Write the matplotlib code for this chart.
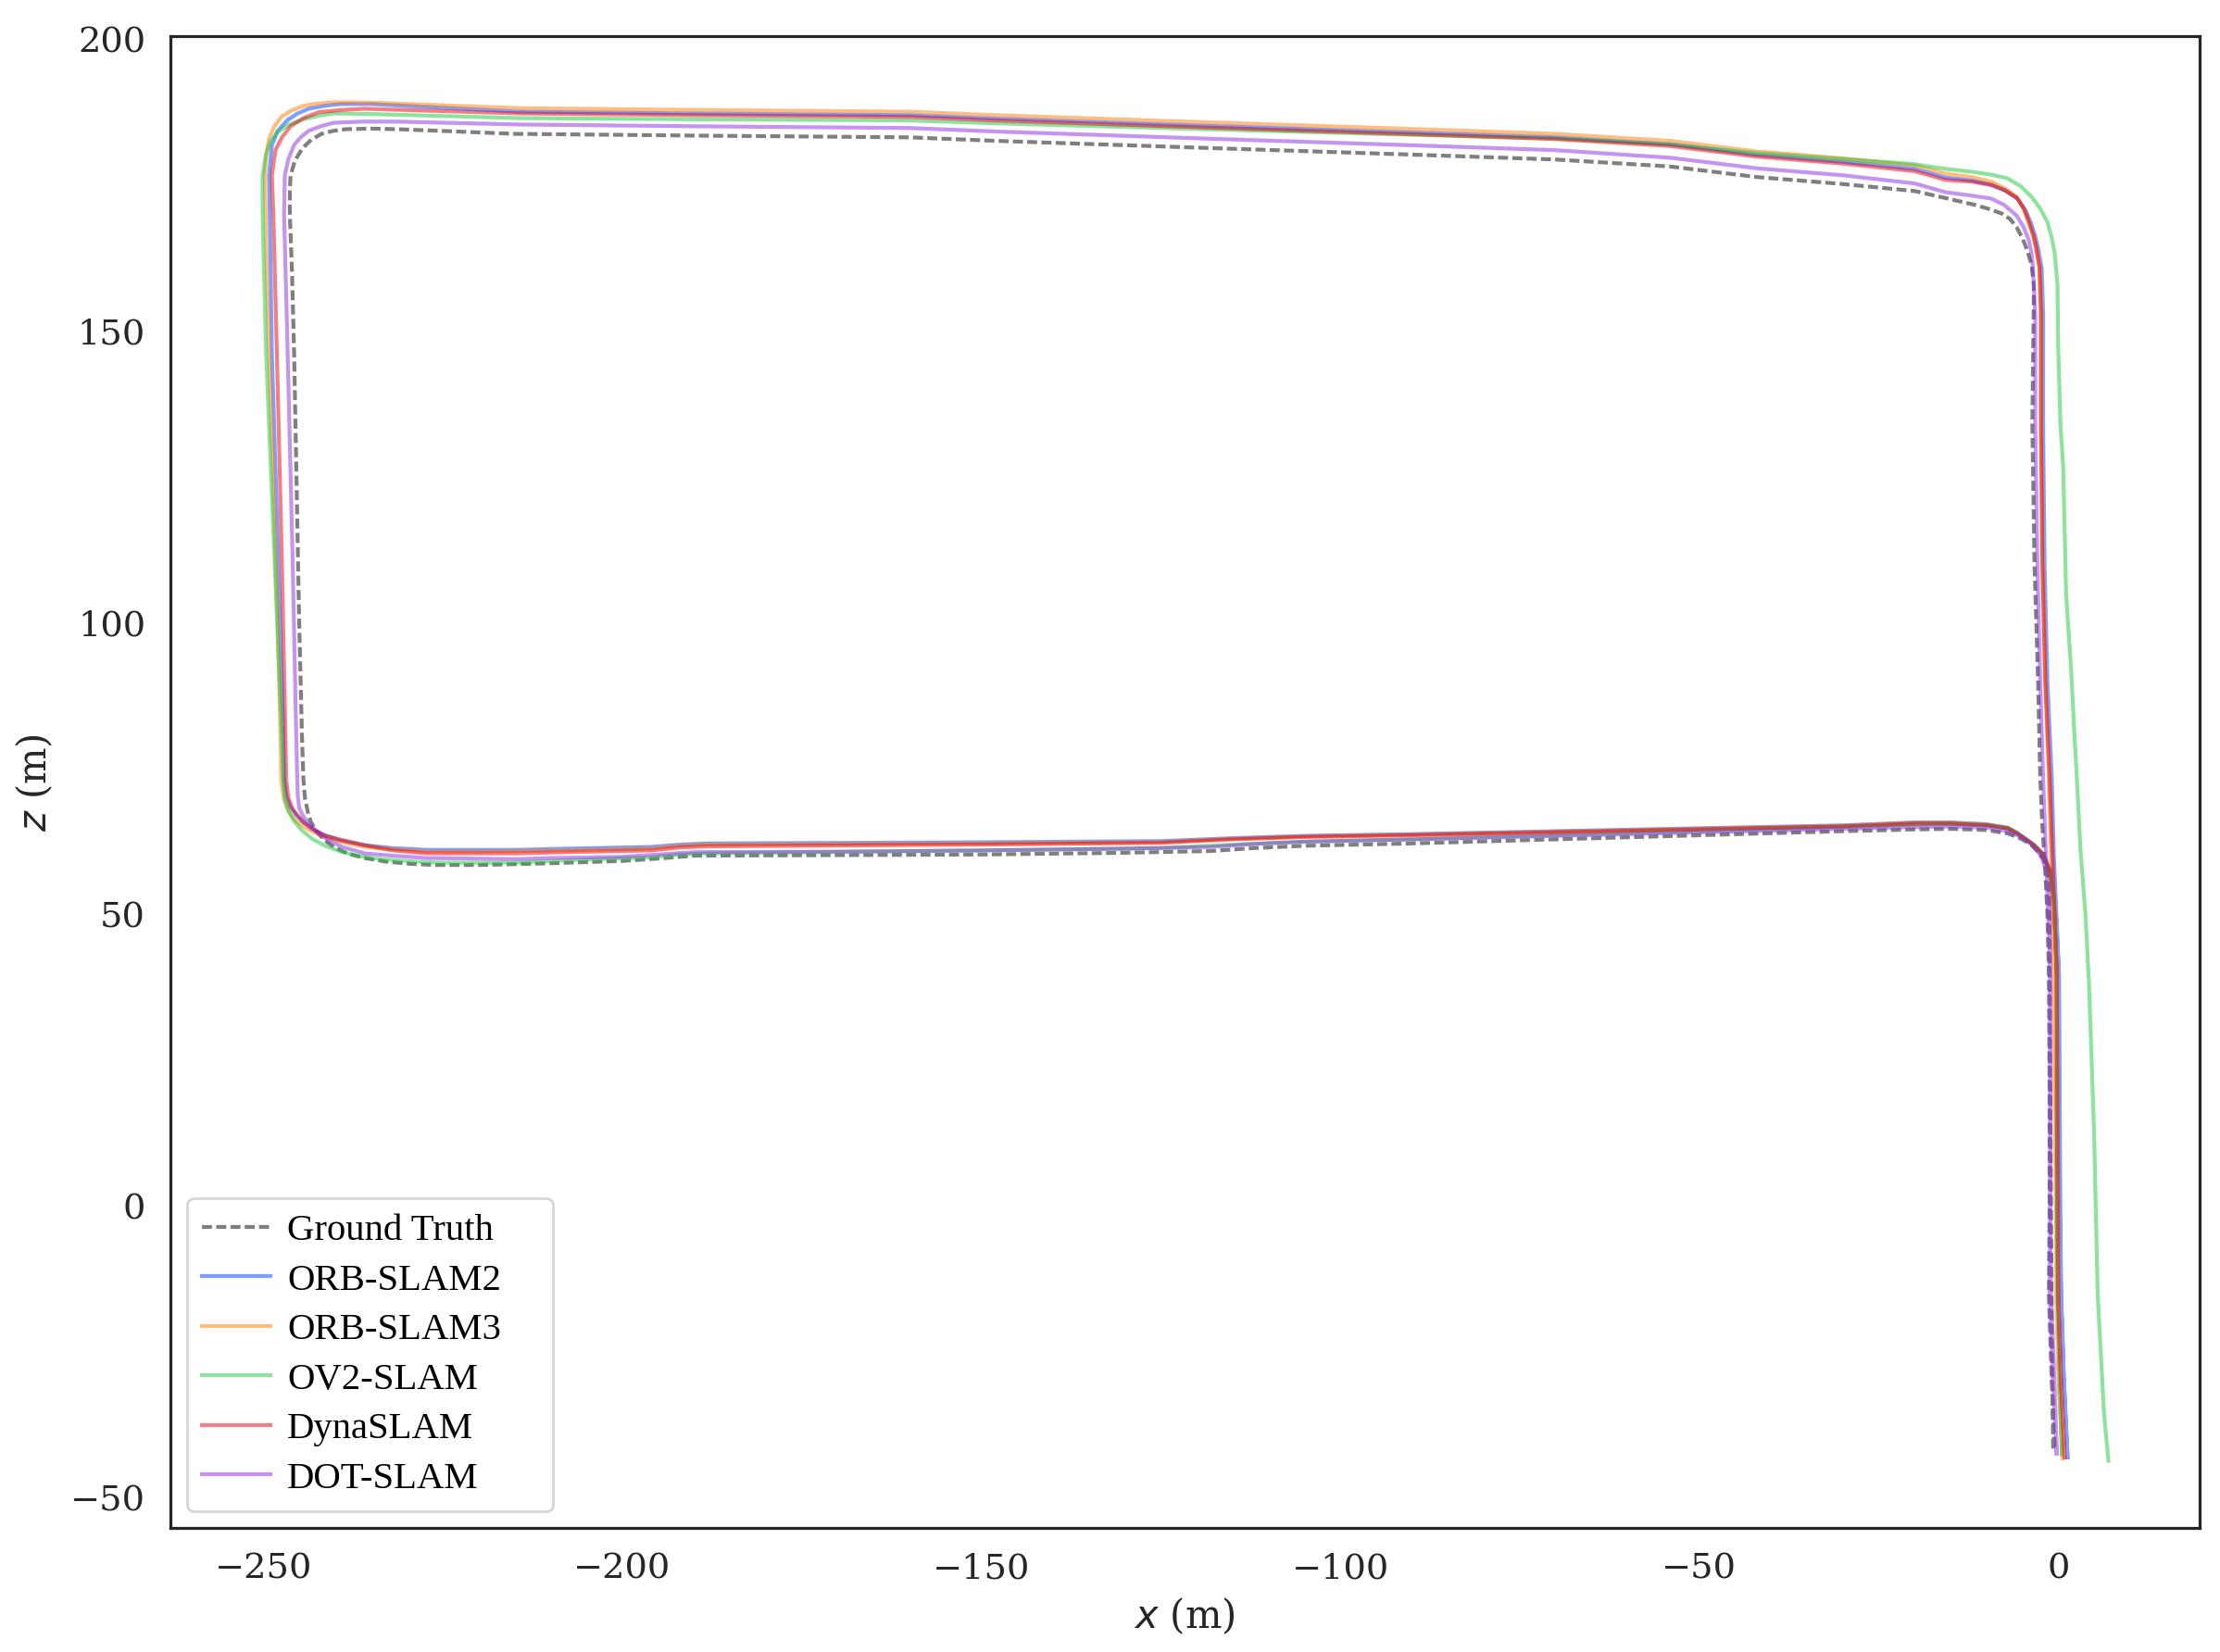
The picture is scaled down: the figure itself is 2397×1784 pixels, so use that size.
import numpy as np
import matplotlib
matplotlib.use("Agg")
import matplotlib.pyplot as plt

plt.rcParams['font.family'] = ['DejaVu Serif']
plt.rcParams['mathtext.fontset'] = 'dejavusans'

labels = ["Ground Truth", "ORB-SLAM2", "ORB-SLAM3", "OV2-SLAM", "DynaSLAM", "DOT-SLAM"]
colors = ["k", "#023eff", "#ff7c00", "#1ac938", "#e8000b", "#8b2be2"]

gt_xz = [
    (-0.7, -41.5), (-0.9, -20), (-1.0, 0), (-1.1, 20), (-1.2, 40), (-1.2, 50), (-1.3, 54), (-1.5, 57.6),
    (-2.0, 59.5), (-2.8, 60.8), (-3.8, 62.0), (-5.0, 62.9), (-7.0, 63.9), (-10.0, 64.5), (-15, 64.7),
    (-20, 64.6), (-30, 64.3), (-50, 63.6), (-70, 62.9), (-90, 62.2), (-105, 61.8), (-112, 61.4), (-118, 60.9),
    (-130, 60.6), (-150, 60.3), (-170, 60.2), (-190, 60.1), (-195, 59.6), (-200, 59.2), (-210, 58.8),
    (-220, 58.5), (-226, 58.5),
    (-229.5, 58.7), (-233, 59.1), (-235.9, 59.7), (-238.3, 60.5), (-240.2, 61.6), (-241.6, 62.9),
    (-242.7, 64.4), (-243.4, 66.0), (-243.8, 67.6), (-244.2, 70), (-244.4, 73),
    (-244.6, 80), (-245.0, 100), (-245.3, 120), (-245.7, 146), (-246.0, 160), (-246.3, 170), (-246.3, 174),
    (-246.2, 176.7), (-245.6, 179.2), (-244.5, 181.4), (-243.3, 182.8), (-241.9, 183.8), (-240.3, 184.3),
    (-238.5, 184.6), (-235, 184.7), (-231.5, 184.6),
    (-223, 184.2), (-215, 183.8), (-190, 183.5), (-160, 183.2), (-148, 182.6), (-119, 181.4), (-89, 180.2),
    (-70, 179.4), (-54, 178.2), (-42, 176.4), (-30, 175.2), (-20, 174.0), (-15, 172.6),
    (-11.5, 171.6), (-9.3, 170.8), (-7.8, 170.1), (-6.7, 169.2), (-5.8, 167.8), (-5.0, 166.0), (-4.3, 163.8),
    (-3.7, 161.3), (-3.4, 158), (-3.4, 155),
    (-3.5, 145), (-3.6, 134), (-3.3, 110), (-2.8, 90), (-2.5, 73.5), (-2.2, 65), (-1.8, 57.6), (-1.5, 50),
    (-1.3, 40), (-1.2, 20), (-1.2, 0), (-1.3, -15), (-0.9, -30), (-0.5, -41.5),
]

orb2_xz = [
    (1.3, -43.0), (0.8, -30), (0.4, -15), (0.2, 0), (0.1, 20), (0.1, 39.7), (-0.4, 52.4), (-0.8, 55.5),
    (-1.1, 57.6), (-1.7, 59.3), (-2.4, 60.8), (-3.3, 61.9), (-4.4, 62.9), (-5.7, 64.0), (-7.0, 64.9),
    (-10, 65.5), (-15, 65.8),
    (-20, 65.8), (-30, 65.3), (-50, 64.8), (-70, 64.3), (-90, 63.8), (-105, 63.5), (-115, 63.1), (-125, 62.6),
    (-150, 62.4), (-188, 62.2), (-192, 62.0), (-196, 61.6), (-208, 61.3), (-214.4, 61.1), (-227.3, 61.1),
    (-232, 61.4), (-235.9, 61.9), (-239.3, 62.7), (-241.6, 63.7), (-243.2, 64.7), (-244.5, 65.9),
    (-245.5, 67.2), (-246.3, 68.6), (-246.8, 70.3), (-247.1, 73),
    (-247.2, 80), (-247.9, 110), (-248.8, 146), (-249.1, 170), (-249.2, 176.7),
    (-248.8, 181.9), (-248.0, 184.3), (-246.6, 186.2), (-245.2, 187.3), (-243.7, 188.1), (-241.5, 188.6),
    (-239.3, 188.9), (-235, 188.9),
    (-214.4, 187.6), (-190, 187.3), (-160, 187.0), (-148, 186.4), (-119, 185.2), (-89, 184.0), (-70, 183.2),
    (-54, 182.0), (-42, 180.2), (-30, 179.0), (-20, 177.8), (-15.7, 176.3),
    (-12, 175.8), (-9.3, 175.1), (-7.3, 174.0), (-5.6, 172.6), (-4.5, 170.6), (-3.8, 168.5), (-3.2, 166.3),
    (-2.8, 164.2), (-2.3, 160.8), (-2.1, 152.9),
    (-2.1, 134), (-1.9, 110), (-1.5, 90), (-0.9, 73.5), (-0.6, 60), (0.1, 40), (0.2, 20), (0.3, 0),
    (0.4, -15), (0.8, -30), (1.3, -43.0),
]

orb3_xz = [
    (0.6, -43.0), (0.1, -30), (-0.2, -15), (-0.3, 0), (-0.3, 20), (-0.3, 40), (-0.6, 52.4), (-0.9, 55.5),
    (-1.2, 57.6), (-1.8, 59.3), (-2.5, 60.8), (-3.4, 61.9), (-4.5, 62.9), (-5.8, 64.0), (-7.1, 64.8),
    (-10, 65.4), (-15, 65.7),
    (-20, 65.7), (-30, 65.2), (-50, 64.7), (-70, 64.2), (-90, 63.7), (-105, 63.4), (-115, 63.0), (-125, 62.4),
    (-150, 62.2), (-188, 62.0), (-192, 61.8), (-196, 61.3), (-208, 61.0), (-220, 60.8), (-227.3, 60.8),
    (-232, 61.2), (-235.9, 61.6), (-239.5, 62.6), (-241.8, 63.5), (-243.3, 64.3), (-244.4, 65.1),
    (-245.4, 66.0), (-246.2, 67.1), (-246.8, 68.6), (-247.2, 70.3), (-247.5, 73),
    (-247.6, 80), (-248.0, 100), (-248.5, 120), (-249.2, 146), (-249.6, 165), (-249.8, 176.7),
    (-249.6, 180), (-249.2, 183), (-248.5, 185.0), (-247.5, 186.7), (-246.1, 187.8), (-244.4, 188.6),
    (-242.4, 189.0), (-240.2, 189.2), (-237, 189.2), (-233.7, 189.1),
    (-214.4, 188.2), (-190, 187.9), (-160, 187.6), (-148, 187.0), (-119, 185.8), (-89, 184.6), (-70, 183.8),
    (-54, 182.6), (-42, 180.8), (-30, 179.6), (-20, 178.4), (-15.7, 177.0),
    (-12, 176.4), (-9.3, 175.6), (-7.5, 174.5), (-5.8, 173.0), (-4.8, 171.0), (-4.1, 168.7), (-3.5, 166.5),
    (-3.1, 164.4), (-2.6, 160.8), (-2.4, 152.9),
    (-2.4, 134), (-2.2, 110), (-1.8, 90), (-1.3, 73.5), (-1.0, 60), (-0.6, 40), (-0.5, 20), (-0.3, 0),
    (-0.3, -15), (0.1, -30), (0.6, -43.2),
]

ov2_xz = [
    (0.5, -42.5), (0.2, -30), (-0.1, -15), (-0.2, 0), (-0.2, 20), (-0.2, 39.7), (-0.6, 52.4), (-0.9, 55.5),
    (-1.2, 57.6), (-1.8, 59.3), (-2.5, 60.8), (-3.4, 61.9), (-4.5, 62.9), (-5.8, 64.0), (-7.1, 64.8),
    (-10, 65.3), (-15, 65.5),
    (-20, 65.4), (-30, 65.0), (-50, 64.3), (-70, 63.6), (-90, 62.9), (-105, 62.5), (-115, 62.0), (-125, 61.4),
    (-150, 61.0), (-188, 60.5), (-192, 60.3), (-196, 59.8), (-208, 59.3), (-214.4, 58.9), (-225, 58.9),
    (-229, 59.1), (-233.6, 59.5), (-237, 60.1), (-239.2, 60.8), (-241.4, 61.8), (-243.1, 62.9),
    (-244.6, 64.4), (-245.7, 66.0), (-246.5, 67.8), (-247.0, 69.8), (-247.2, 73),
    (-247.4, 80), (-248.4, 110), (-249.6, 146), (-250.1, 170), (-250.1, 176.7),
    (-249.6, 180.5), (-249.0, 182.5), (-248.0, 184.1), (-246.4, 185.4), (-244.4, 186.3), (-242.3, 186.9),
    (-240.2, 187.3), (-235, 187.2),
    (-214.4, 186.5), (-190, 186.3), (-160, 186.1), (-148, 185.6), (-119, 184.6), (-89, 183.6), (-70, 183.0),
    (-54, 182.0), (-42, 180.5), (-30, 179.5), (-20, 178.6), (-15.7, 177.8),
    (-12, 177.3), (-9.3, 176.8), (-7.1, 176.2), (-5.2, 174.8), (-3.7, 173.0), (-2.5, 171.0), (-1.5, 168.7),
    (-0.9, 166.0), (-0.5, 163.5), (-0.1, 158), (0.0, 147.6),
    (0.3, 134.3), (0.7, 126.7), (1.1, 104.9), (1.8, 92), (2.3, 80), (2.6, 73.5), (3.1, 61.2), (3.8, 50),
    (4.3, 38), (5.0, 12.7), (5.5, -15), (6.4, -35.8), (7.0, -43.6),
]

dyna_xz = [
    (0.9, -43.0), (0.4, -30), (0.0, -15), (-0.1, 0), (-0.2, 20), (-0.2, 39.7), (-0.6, 52.4), (-0.9, 55.5),
    (-1.2, 57.6), (-1.8, 59.3), (-2.5, 60.8), (-3.4, 61.9), (-4.5, 62.9), (-5.8, 64.0), (-7.1, 64.8),
    (-10, 65.3), (-15, 65.6),
    (-20, 65.6), (-30, 65.1), (-50, 64.6), (-70, 64.1), (-90, 63.6), (-105, 63.3), (-115, 62.9), (-125, 62.3),
    (-150, 62.0), (-188, 61.7), (-192, 61.5), (-196, 61.0), (-208, 60.7), (-214.4, 60.5), (-227.3, 60.5),
    (-232, 61.0), (-235.9, 61.9), (-239, 62.8), (-241.4, 63.5), (-243.0, 64.6), (-244.4, 65.9),
    (-245.3, 67.1), (-246.0, 68.3), (-246.5, 70), (-246.8, 73),
    (-246.9, 80), (-247.4, 110), (-248.1, 146), (-248.6, 170), (-248.8, 176.7),
    (-248.3, 181.0), (-247.4, 183.2), (-246.2, 185.1), (-244.4, 186.5), (-242.3, 187.5), (-239, 187.9),
    (-235.9, 188.1),
    (-214.4, 187.3), (-190, 187.0), (-160, 186.7), (-148, 186.1), (-119, 184.9), (-89, 183.7), (-70, 182.9),
    (-54, 181.7), (-42, 179.9), (-30, 178.7), (-20, 177.4), (-15.7, 175.9),
    (-12, 175.6), (-9.3, 175.0), (-7.5, 174.2), (-5.8, 172.9), (-4.8, 171.0), (-4.1, 168.7), (-3.5, 166.5),
    (-3.1, 164.4), (-2.6, 160.8), (-2.4, 152.9),
    (-2.4, 134), (-2.2, 110), (-1.8, 90), (-1.2, 73.5), (-0.8, 60), (-0.2, 40), (-0.1, 20), (0.0, 0),
    (0.0, -15), (0.4, -30), (0.9, -43.0),
]

dot_xz = [
    (-0.2, -42.4), (-0.5, -30), (-1.0, -15), (-1.1, 0), (-1.1, 20), (-1.1, 39.7), (-1.2, 52.4), (-1.4, 55.5),
    (-1.7, 57.6), (-2.2, 59.5), (-2.9, 60.9), (-3.9, 62.2), (-5.0, 63.2), (-7.0, 64.3), (-10, 64.9),
    (-15, 65.1),
    (-20, 65.0), (-30, 64.7), (-50, 64.1), (-70, 63.5), (-90, 62.9), (-105, 62.5), (-112, 62.1), (-118, 61.6),
    (-130, 61.3), (-150, 61.0), (-170, 60.8), (-190, 60.7), (-195, 60.3), (-200, 59.9), (-210, 59.7),
    (-214.4, 59.5), (-227.3, 59.7),
    (-232, 60.1), (-235.9, 60.5), (-239, 61.6), (-241.1, 62.9), (-242.6, 64.2), (-243.7, 65.6),
    (-244.5, 67.0), (-245.0, 68.3), (-245.2, 70.5), (-245.3, 75),
    (-245.4, 80), (-245.9, 110), (-246.6, 146), (-247.1, 170), (-247.0, 176.7),
    (-246.5, 179.5), (-245.7, 181.9), (-244.8, 183.2), (-243.7, 184.3), (-242.0, 185.1), (-240.2, 185.7),
    (-236, 185.9), (-231.5, 185.9),
    (-214.4, 185.4), (-190, 185.1), (-160, 184.8), (-148, 184.2), (-119, 183.0), (-89, 181.8), (-70, 181.0),
    (-54, 179.7), (-42, 177.9), (-30, 176.7), (-20, 175.3), (-15.7, 173.8),
    (-12, 173.2), (-9.3, 172.7), (-7.5, 171.6), (-5.8, 169.8), (-4.8, 167.8), (-4.1, 165.6), (-3.7, 163.2),
    (-3.5, 160.8), (-3.2, 152.9),
    (-3.2, 134), (-2.9, 110), (-2.5, 90), (-2.1, 73.5), (-1.7, 60), (-1.1, 40), (-1.1, 20), (-1.1, 0),
    (-1.2, -15), (-0.7, -30), (-0.2, -42.4),
]

series = [gt_xz, orb2_xz, orb3_xz, ov2_xz, dyna_xz, dot_xz]

W, H, DPI = 2397, 1784, 200
fig = plt.figure(figsize=(W / DPI, H / DPI), dpi=DPI)
ax = fig.add_axes([183.5 / W, 1 - 1650 / H, (2375 - 183.5) / W, (1650 - 39.3) / H])

for i, (pts, lab, col) in enumerate(zip(series, labels, colors)):
    arr = np.array(pts)
    if i == 0:
        ax.plot(arr[:, 0], arr[:, 1], color=col, alpha=0.5, lw=1.5, ls=(0, (2.6, 1.1)), label=lab)
    else:
        ax.plot(arr[:, 0], arr[:, 1], color=col, alpha=0.5, lw=1.5, label=lab)

ax.set_xlim(-263.0, 19.7)
ax.set_ylim(-55.1, 200.5)
ax.set_xticks([-250, -200, -150, -100, -50, 0])
ax.set_yticks([-50, 0, 50, 100, 150, 200])
ax.tick_params(length=0, pad=9.5, labelsize=13.8, colors='#262626')
for s in ax.spines.values():
    s.set_color('#262626')
    s.set_linewidth(1.15)

ax.set_xlabel(r'$x$ (m)', fontsize=15, color='#262626', labelpad=4)
ax.set_ylabel(r'$z$ (m)', fontsize=15, color='#262626', labelpad=6)

leg = ax.legend(loc='lower left', bbox_to_anchor=(0.0084, 0.0112, 0.1803, 0.0), mode='expand',
                prop={'family': 'Liberation Serif', 'size': 14.7},
                labelspacing=0.39, handlelength=1.8, handletextpad=0.45,
                borderaxespad=0.0, fancybox=True, edgecolor='0.8', framealpha=0.8)
for t in leg.get_texts():
    t.set_color('black')

fig.savefig('out.png', dpi=DPI)
